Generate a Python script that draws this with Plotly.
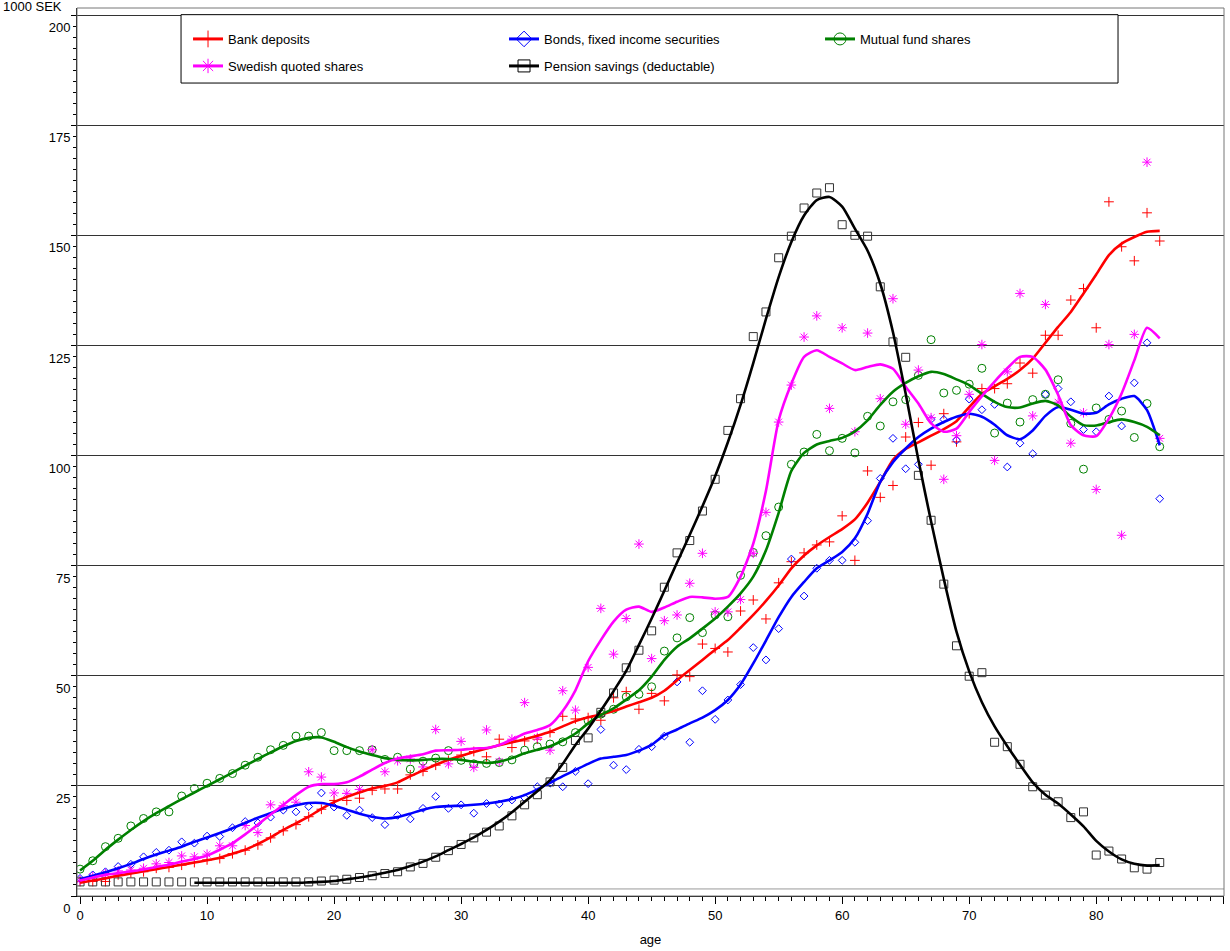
import plotly.graph_objects as go

# ---------------- data ----------------
ages = list(range(0, 86))

bank_pts = [3.3, 3.3, 3.3, 4.8, 5.3, 5.5, 6.3, 6.5, 7.0, 7.6,
            8.2, 8.5, 9.6, 10.4, 11.6, 13.2, 14.8, 16.2, 18.0, 19.7,
            21.7, 21.7, 22.2, 24.0, 24.3, 24.3, 27.5, 28.3, 29.7, 30.8,
            32.0, 32.8, 31.6, 35.6, 33.7, 35.2, 35.6, 37.1, 40.8, 40.2,
            40.5, 39.9, 45.0, 46.4, 42.4, 46.0, 44.3, 50.2, 49.8, 57.2,
            56.2, 55.4, 64.7, 67.2, 62.9, 71.1, 75.9, 77.9, 79.7, 80.4,
            86.3, 76.2, 96.5, 90.5, 93.2, 104.2, 107.5, 97.8, 109.5, 103.1,
            109.5, 115.2, 115.2, 116.3, 121.0, 118.7, 127.3, 127.3, 135.3, 137.9,
            129.0, 157.6, 147.4, 144.2, 155.1, 148.7]
bank_fit = [3.0, 3.5, 4.0, 4.6, 5.1, 5.6, 6.1, 6.6, 7.1, 7.6,
            8.1, 8.7, 9.6, 10.5, 11.8, 13.3, 15.0, 16.5, 18.0, 19.8,
            21.3, 22.5, 23.5, 24.4, 25.0, 25.8, 27.2, 28.5, 29.8, 30.9,
            31.8, 32.7, 33.5, 34.2, 34.9, 35.6, 36.4, 37.3, 38.5, 39.7,
            40.6, 41.2, 42.0, 43.0, 44.0, 45.0, 46.6, 49.0, 51.3, 53.6,
            55.9, 58.1, 60.9, 63.8, 67.0, 70.5, 74.4, 77.3, 79.6, 81.5,
            83.3, 85.5, 89.3, 94.0, 99.0, 101.5, 103.0, 104.5, 106.0, 107.8,
            111.0, 114.0, 115.7, 117.4, 119.4, 122.0, 125.6, 129.2, 132.6, 136.8,
            141.1, 145.5, 148.1, 149.6, 150.8, 151.0]

bonds_pts = [4.0, 4.8, 5.5, 6.7, 7.2, 8.9, 9.9, 10.4, 12.3, 12.0,
             13.6, 13.5, 15.5, 16.9, 16.6, 17.9, 19.5, 19.1, 20.3, 23.4,
             20.2, 18.3, 19.5, 17.8, 16.2, 18.3, 17.5, 19.9, 22.6, 19.9,
             20.7, 18.8, 21.0, 20.9, 21.8, 22.3, 24.8, 25.6, 24.8, 28.3,
             25.5, 37.8, 29.7, 28.7, 33.3, 33.9, 36.3, 48.6, 34.9, 46.6,
             40.1, 44.5, 48.0, 56.4, 53.6, 60.7, 76.5, 68.1, 74.4, 76.2,
             76.2, 80.3, 85.2, 94.8, 103.9, 97.0, 98.0, 108.2, 108.2, 103.5,
             112.8, 110.4, 111.6, 97.4, 102.8, 100.4, 113.9, 115.2, 112.2, 105.9,
             105.4, 113.5, 106.7, 116.5, 125.6, 90.2]
bonds_fit = [3.8, 4.6, 5.4, 6.3, 7.3, 8.4, 9.4, 10.3, 11.2, 12.3,
             13.3, 14.3, 15.4, 16.6, 17.8, 18.8, 19.8, 20.6, 21.1, 21.1,
             20.5, 19.6, 18.7, 18.0, 17.6, 17.9, 18.7, 19.6, 20.2, 20.4,
             20.5, 20.7, 21.0, 21.4, 22.0, 22.9, 24.2, 25.7, 27.2, 28.6,
             30.0, 31.2, 31.6, 32.0, 33.0, 34.3, 36.5, 37.8, 39.2, 40.5,
             42.2, 44.5, 48.0, 52.8, 58.0, 63.3, 67.9, 71.3, 74.4, 76.2,
             78.1, 81.2, 86.8, 94.0, 98.5, 101.6, 104.2, 106.1, 107.6, 108.8,
             109.5, 108.8, 107.0, 104.6, 103.7, 105.7, 109.0, 111.0, 110.4, 109.5,
             109.7, 111.6, 112.9, 113.5, 110.3, 102.3]

fund_pts = [6.1, 8.0, 11.2, 13.1, 15.9, 17.6, 19.1, 19.1, 22.7, 24.4,
            25.6, 26.7, 27.8, 29.7, 31.5, 33.2, 34.2, 36.3, 36.3, 37.1,
            33.0, 33.0, 33.0, 33.2, 31.0, 31.5, 28.8, 30.6, 31.3, 33.0,
            30.8, 30.0, 30.1, 30.3, 30.9, 33.1, 33.9, 34.5, 35.0, 37.1,
            39.8, 41.3, 42.4, 45.2, 45.8, 47.5, 55.6, 58.6, 63.2, 59.8,
            63.8, 63.4, 72.8, 78.0, 81.8, 88.3, 98.0, 100.8, 104.8, 101.1,
            103.9, 100.6, 108.9, 106.7, 112.2, 112.7, 118.2, 126.3, 114.2, 114.8,
            116.2, 119.8, 105.1, 111.9, 107.6, 112.7, 113.9, 117.2, 107.3, 96.9,
            110.8, 108.2, 110.1, 104.1, 111.8, 102.0]
fund_fit = [5.8, 8.0, 10.5, 12.8, 15.0, 17.0, 18.8, 20.4, 22.0, 23.5,
            25.0, 26.5, 28.0, 29.6, 31.1, 32.6, 34.0, 35.2, 35.9, 36.0,
            35.0, 33.8, 32.8, 32.0, 31.3, 30.9, 30.8, 30.9, 31.1, 31.1,
            30.9, 30.5, 30.2, 30.5, 31.3, 32.4, 33.2, 34.0, 35.3, 36.9,
            39.2, 41.1, 42.6, 44.6, 46.7, 49.8, 53.6, 56.6, 58.5, 60.7,
            63.0, 65.7, 68.7, 72.5, 78.5, 87.0, 96.5, 100.6, 102.5, 103.3,
            104.0, 105.5, 108.0, 111.5, 114.5, 116.5, 118.0, 119.0, 118.5, 117.3,
            116.0, 114.0, 112.2, 111.0, 110.9, 111.8, 112.4, 111.4, 108.8, 106.9,
            106.8, 107.6, 108.2, 107.6, 106.5, 104.6]

shares_pts = [3.6, 4.4, 5.1, 5.7, 5.9, 6.3, 7.3, 7.6, 9.1, 8.9,
              9.5, 11.4, 11.4, 16.0, 14.4, 20.7, 20.5, 21.3, 28.2, 27.0,
              23.4, 23.3, 24.2, 33.2, 28.2, 30.7, 31.1, 29.3, 37.8, 30.0,
              35.1, 29.2, 37.7, 30.5, 35.6, 43.9, 36.0, 33.1, 46.6, 42.2,
              51.9, 65.3, 54.9, 63.0, 79.9, 53.9, 62.5, 63.8, 71.0, 77.8,
              64.5, 64.5, 67.3, 77.8, 87.1, 107.6, 116.0, 126.9, 131.7, 110.7,
              129.0, 105.4, 127.8, 112.9, 135.6, 107.1, 119.4, 108.6, 94.6, 104.5,
              113.9, 125.2, 98.9, 119.0, 136.8, 109.0, 134.3, 112.1, 102.8, 109.7,
              92.3, 125.2, 81.9, 127.5, 166.6, 103.9]
shares_fit = [3.5, 4.2, 4.8, 5.2, 5.6, 6.0, 6.6, 7.1, 7.8, 8.4,
              9.2, 10.5, 12.0, 14.0, 16.2, 18.5, 20.7, 22.9, 24.8, 25.4,
              25.4, 25.8, 27.1, 28.7, 30.2, 31.2, 31.7, 32.2, 33.0, 33.1,
              33.2, 33.5, 33.6, 34.3, 35.5, 36.9, 37.7, 38.8, 42.0, 46.7,
              53.3, 58.1, 62.3, 65.0, 65.7, 64.5, 65.5, 66.8, 67.9, 67.8,
              67.5, 67.9, 72.5, 80.0, 92.0, 108.0, 116.3, 122.4, 123.9, 122.4,
              120.9, 119.4, 120.1, 120.7, 119.7, 115.6, 111.8, 107.3, 105.4, 106.1,
              109.9, 113.5, 116.8, 119.8, 122.4, 122.4, 119.5, 113.8, 106.9, 104.6,
              104.4, 108.4, 114.1, 121.6, 129.0, 126.6]

pension_pts = [3.2, 3.2, 3.2, 3.2, 3.2, 3.2, 3.2, 3.2, 3.2, 3.2,
               3.2, 3.2, 3.2, 3.2, 3.2, 3.2, 3.2, 3.2, 3.2, 3.4,
               3.6, 3.8, 4.2, 4.6, 5.1, 5.5, 6.6, 7.4, 8.8, 10.3,
               11.7, 13.2, 14.5, 15.9, 18.2, 20.7, 23.0, 25.9, 29.2, 35.3,
               35.9, 41.7, 46.1, 51.8, 55.8, 60.2, 70.1, 77.9, 80.7, 87.4,
               94.6, 105.7, 112.9, 127.0, 132.6, 144.9, 149.8, 156.2, 159.6, 160.8,
               152.4, 150.0, 149.8, 138.3, 125.8, 122.3, 95.5, 85.3, 70.8, 56.8,
               49.9, 50.7, 34.9, 33.9, 29.9, 24.8, 22.9, 21.4, 17.8, 19.1,
               9.3, 10.2, 8.4, 6.4, 6.1, 7.6]
pension_fit = [None, None, None, None, None, None, None, None, None, 3.0,
               3.0, 3.0, 3.0, 3.0, 3.0, 3.0, 3.0, 3.0, 3.1, 3.2,
               3.4, 3.8, 4.2, 4.7, 5.3, 5.9, 6.8, 7.8, 9.0, 10.4,
               11.8, 13.3, 15.0, 16.9, 19.0, 21.4, 23.8, 26.3, 30.0, 34.3,
               38.0, 42.1, 46.5, 51.1, 57.0, 63.0, 69.3, 75.7, 82.0, 88.5,
               95.3, 103.0, 111.5, 121.0, 131.0, 140.5, 148.5, 154.5, 158.0, 158.7,
               156.5, 151.5, 146.5, 139.0, 128.0, 114.0, 99.0, 85.0, 72.0, 60.0,
               51.0, 44.0, 38.5, 34.0, 29.8, 25.8, 23.0, 21.0, 18.5, 15.8,
               12.5, 10.1, 8.3, 7.3, 6.9, 7.0]

x_ticks = list(range(0, 91, 10))
y_ticks = list(range(0, 201, 25))

series = [
    # name, points, fit, color, symbol, marker size, legend row
    ("Bank deposits", bank_pts, bank_fit, "#ff0000", "cross-thin-open", 7, "legend"),
    ("Bonds, fixed income securities", bonds_pts, bonds_fit, "#0000ff", "diamond-open", 6, "legend"),
    ("Mutual fund shares", fund_pts, fund_fit, "#008000", "circle-open", 8, "legend"),
    ("Swedish quoted shares", shares_pts, shares_fit, "#ff00ff", "asterisk-open", 8, "legend2"),
    ("Pension savings (deductable)", pension_pts, pension_fit, "#000000", "square-open", 8, "legend2"),
]

fig = go.Figure()

# scatter points
for name, pts, fit, col, sym, ms, lg in series:
    mcol = "#333333" if col == "#000000" else col
    fig.add_trace(go.Scatter(
        x=ages, y=pts, mode="markers", showlegend=False, hoverinfo="skip",
        marker=dict(symbol=sym, size=ms, color=mcol, line=dict(color=mcol, width=1)),
    ))

# smoothed lines
for name, pts, fit, col, sym, ms, lg in series:
    fig.add_trace(go.Scatter(
        x=ages, y=fit, mode="lines", showlegend=False, hoverinfo="skip",
        line=dict(color=col, width=2.6, shape="spline", smoothing=0.6),
        connectgaps=False,
    ))

# legend entries
for name, pts, fit, col, sym, ms, lg in series:
    fig.add_trace(go.Scatter(
        x=[None], y=[None], mode="lines+markers", name=name, legend=lg,
        line=dict(color=col, width=3),
        marker=dict(symbol=sym, size=12, color=col, line=dict(color=col, width=1)),
    ))

legend_common = dict(orientation="h", x=0.0968, xanchor="left", yanchor="top",
                     entrywidth=271, bgcolor="rgba(0,0,0,0)", borderwidth=0,
                     font=dict(size=13, color="black"), itemwidth=30)

fig.update_layout(
    width=1230, height=951,
    margin=dict(l=77, r=6, t=8, b=55),
    plot_bgcolor="white", paper_bgcolor="white",
    font=dict(family="Liberation Sans, Arial, sans-serif", size=13, color="black"),
    showlegend=True,
    legend=dict(y=0.9820, **legend_common),
    legend2=dict(y=0.9516, **legend_common),
    xaxis=dict(
        range=[-0.24, 90.06], tickmode="array", tickvals=x_ticks,
        ticks="outside", ticklen=7, tickcolor="black",
        showline=True, linecolor="black", linewidth=1,
        showgrid=False, zeroline=False,
        minor=dict(tick0=0, dtick=1, ticks="outside", ticklen=4, tickcolor="black", showgrid=False),
        title=dict(text="age", standoff=13, font=dict(size=13)),
        tickfont=dict(size=13),
    ),
    yaxis=dict(
        range=[0, 201.6], tickmode="array", tickvals=y_ticks,
        ticks="outside", ticklen=5, tickcolor="black",
        showline=True, linecolor="black", linewidth=1,
        showgrid=True, gridcolor="#333333", gridwidth=1, zeroline=False,
        minor=dict(tick0=0, dtick=2.5, ticks="outside", ticklen=3, tickcolor="black", showgrid=False),
        ticklabelposition="outside bottom", ticklabelshift=3, ticklabelstandoff=3,
        tickfont=dict(size=13),
    ),
    shapes=[
        dict(type="rect", xref="paper", yref="paper", x0=0, x1=1, y0=0, y1=1,
             line=dict(color="#777777", width=1), fillcolor="rgba(0,0,0,0)", layer="above"),
        dict(type="line", xref="paper", yref="y", x0=0, x1=1, y0=1.6, y1=1.6,
             line=dict(color="#999999", width=1), layer="below"),
        dict(type="rect", xref="paper", yref="paper", x0=0.0907, x1=0.9076, y0=0.9155, y1=0.9925,
             line=dict(color="black", width=1), fillcolor="white", layer="above"),
    ],
    annotations=[
        dict(text="1000 SEK", xref="paper", yref="paper", x=0, y=1, xanchor="right",
             yanchor="middle", xshift=-13, yshift=2, showarrow=False, font=dict(size=13)),
    ],
)

fig.write_html("out.html")
